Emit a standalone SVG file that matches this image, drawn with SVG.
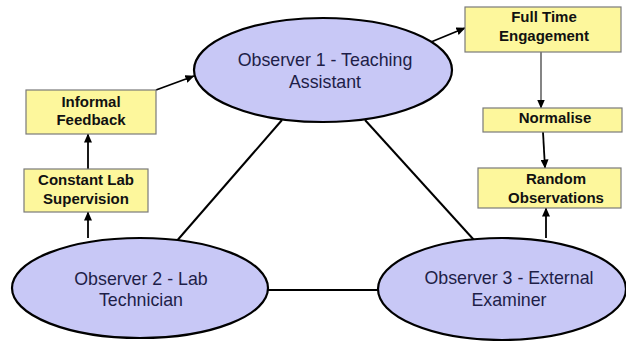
<svg xmlns="http://www.w3.org/2000/svg" width="626" height="341" viewBox="0 0 626 341">
<defs>
<marker id="ah" markerWidth="9" markerHeight="8" refX="8.5" refY="4" orient="auto" markerUnits="userSpaceOnUse">
<path d="M0,0 L9,4 L0,8 Z" fill="#000"/>
</marker>
<style>
.ell{fill:#c8c8f6;stroke:#000;stroke-width:2.2}
.box{fill:#fdf79c;stroke:#7a7a7a;stroke-width:1.2}
.et{font-family:"Liberation Sans",Arial,sans-serif;font-size:17.8px;fill:#1e1e48;text-anchor:middle}
.bt{font-family:"Liberation Sans",Arial,sans-serif;font-size:15px;font-weight:bold;fill:#111;text-anchor:middle}
.ln{stroke:#000;stroke-width:2;fill:none}
.ar{stroke:#000;stroke-width:1.8;fill:none;marker-end:url(#ah)}
.ar2{stroke:#333;stroke-width:1.2;fill:none;marker-end:url(#ah)}
</style>
</defs>
<rect width="626" height="341" fill="#fff"/>
<g id="connectors">
<line class="ln" x1="282" y1="120" x2="175" y2="243"/>
<line class="ln" x1="365" y1="120" x2="474" y2="240"/>
<line class="ln" x1="266" y1="290" x2="379" y2="290"/>
<line class="ar" x1="156" y1="90" x2="194" y2="76"/>
<line class="ar" x1="431" y1="42" x2="465" y2="28"/>
<line class="ar2" x1="541" y1="52" x2="541" y2="108"/>
<line class="ar" x1="543" y1="132" x2="545" y2="168"/>
<line class="ar" x1="546" y1="238" x2="546" y2="208"/>
<line class="ar" x1="88" y1="238" x2="88" y2="212"/>
<line class="ar" x1="88" y1="169" x2="88" y2="134"/>
</g>
<g id="observer1">
<ellipse class="ell" cx="323" cy="70" rx="129" ry="52"/>
<text class="et" x="325" y="66">Observer 1 - Teaching</text>
<text class="et" x="325" y="88">Assistant</text>
</g>
<g id="observer2">
<ellipse class="ell" cx="140" cy="288" rx="128" ry="50"/>
<text class="et" x="141" y="285">Observer 2 - Lab</text>
<text class="et" x="141" y="306">Technician</text>
</g>
<g id="observer3">
<ellipse class="ell" cx="502" cy="289" rx="124" ry="51"/>
<text class="et" x="509" y="284">Observer 3 - External</text>
<text class="et" x="509" y="306">Examiner</text>
</g>
<g id="informal-feedback">
<rect class="box" x="26" y="90" width="130" height="44"/>
<text class="bt" x="91" y="107">Informal</text>
<text class="bt" x="91" y="125">Feedback</text>
</g>
<g id="constant-lab-supervision">
<rect class="box" x="24" y="169" width="124" height="43"/>
<text class="bt" x="86" y="185">Constant Lab</text>
<text class="bt" x="86" y="204">Supervision</text>
</g>
<g id="full-time-engagement">
<rect class="box" x="465" y="7" width="156" height="45"/>
<text class="bt" x="544" y="22">Full Time</text>
<text class="bt" x="544" y="41">Engagement</text>
</g>
<g id="normalise">
<rect class="box" x="483" y="108" width="139" height="24"/>
<text class="bt" x="555" y="123">Normalise</text>
</g>
<g id="random-observations">
<rect class="box" x="478" y="168" width="143" height="40"/>
<text class="bt" x="556" y="184">Random</text>
<text class="bt" x="556" y="203">Observations</text>
</g>
</svg>
